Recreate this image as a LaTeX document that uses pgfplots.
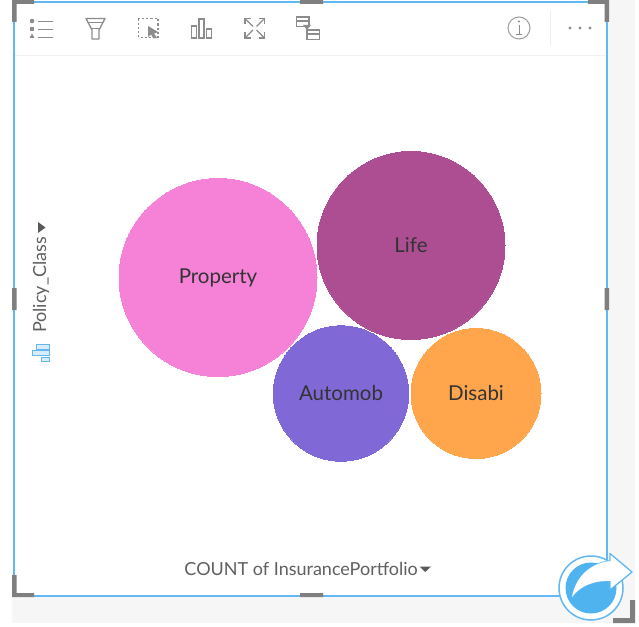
\documentclass[border=0pt]{standalone}
\usepackage{fontspec}
\setmainfont{Lato}
\usepackage{pgfplots}
\usepackage{pgfplotstable}
\pgfplotsset{compat=1.18}
\definecolor{frameblue}{HTML}{63B8F2}
\definecolor{handle}{HTML}{7F7F7F}
\definecolor{icon}{HTML}{8C8C8C}
\definecolor{pagegrey}{HTML}{F6F6F6}
\definecolor{sharegblue}{HTML}{4FB3F0}
\definecolor{cProperty}{HTML}{F582D6}
\definecolor{cLife}{HTML}{AD4E93}
\definecolor{cAuto}{HTML}{8069D6}
\definecolor{cDisabi}{HTML}{FFA64D}
\definecolor{txt}{HTML}{606060}
\pgfplotsset{bubble/.style={only marks,mark=*,mark size=#1,point meta=explicit symbolic,
   nodes near coords,
   nodes near coords align={anchor=center},
   every node near coord/.append style={font=\fontsize{20.5}{23}\selectfont,text=black!80,inner sep=0pt,anchor=center}}}
\begin{document}
\begin{tikzpicture}
\path[use as bounding box] (0,0) rectangle (639pt,626pt);
\begin{axis}[at={(0,0)},anchor=south west,scale only axis,width=639pt,height=626pt,
  xmin=0,xmax=639,ymin=0,ymax=626,y dir=reverse,hide axis,clip=false]
% page background
\fill[pagegrey] (608,0) rectangle (635,623);
\fill[pagegrey] (12,597) rectangle (635,623);
\fill[white] (14,2) rectangle (607,596);
% bubbles
\addplot[bubble=99,mark options={draw=cProperty,fill=cProperty,line width=0pt}] coordinates {(218,277.5)[Property]};
\addplot[bubble=94,mark options={draw=cLife,fill=cLife,line width=0pt}] coordinates {(411,245.5)[Life]};
\addplot[bubble=67.7,mark options={draw=cAuto,fill=cAuto,line width=0pt}] coordinates {(341,393.5)[Automob]};
\addplot[bubble=65,mark options={draw=cDisabi,fill=cDisabi,line width=0pt}] coordinates {(476,393.5)[Disabi]};
% axis titles
\node[font=\fontsize{18}{20}\selectfont,text=txt,anchor=east,inner sep=0pt] at (418,569) {COUNT of InsurancePortfolio};
\fill[black!65] (419.5,566.5) -- (431,566.5) -- (425.2,572) -- cycle;
\node[font=\fontsize{18}{20}\selectfont,text=txt,rotate=90,anchor=west,inner sep=0pt] at (41,333) {Policy\_Class};
\fill[black!65] (38,222) -- (38,233) -- (45.5,227.5) -- cycle;
\draw[frameblue,line width=1pt,fill=frameblue!25] (36,344.5) rectangle (49,349);
\draw[frameblue,line width=1pt,fill=frameblue!25] (32,350.5) rectangle (49,355.5);
\draw[frameblue,line width=1pt,fill=frameblue!25] (41,357) rectangle (49,361);
% toolbar
\draw[black!6,line width=1pt] (15,55.5) -- (606,55.5);
\draw[black!7,line width=1pt] (550,11) -- (550,45);
% list icon
\fill[icon] (32,21) circle (2.3); \fill[icon] (29.7,27) rectangle (34.3,31.5); \fill[icon] (32,33.5) -- (29.5,38) -- (34.5,38) -- cycle;
\draw[icon,line width=.9pt] (38,21) -- (53,21) (38,29) -- (53,29) (38,37) -- (53,37);
% funnel
\draw[icon,line width=1.3pt,line join=round] (86,18.5) -- (105,18.5) -- (99,30) -- (99,39) -- (92,39) -- (92,30) -- cycle;
\draw[icon,line width=1pt] (88,23) -- (103,23);
\draw[icon,line width=1pt] (92,29) -- (99,29);
% selection
\draw[icon,line width=1.2pt,dash pattern=on 2.2pt off 2pt] (138.5,18.5) rectangle (158,37.5);
\fill[icon] (148,26) -- (158,32) -- (154,33.5) -- (157,38) -- (153.5,38.5) -- (151,34.5) -- (148,37) -- cycle;
% bars
\draw[icon,line width=1.2pt] (191.5,26) rectangle (196.5,38) (199,19) rectangle (204,38) (206.5,29) rectangle (211.5,38);
% expand
\draw[icon,line width=1.2pt] (245,24) -- (245,18.5) -- (251,18.5) (259,18.5) -- (264.5,18.5) -- (264.5,24) (245,32) -- (245,38) -- (251,38) (259,38) -- (264.5,38) -- (264.5,32);
\draw[icon,line width=1.2pt] (246,19.5) -- (253,26.5) (263.5,19.5) -- (256.5,26.5) (246,37) -- (253,30) (263.5,37) -- (256.5,30);
% tree
\draw[icon,line width=1.2pt] (296.5,17) rectangle (309,26.5) (296.5,21) -- (309,21);
\draw[icon,line width=1.2pt] (307,30) rectangle (319.5,39.5) (307,34) -- (319.5,34);
\fill[icon] (303,25) -- (311,25) -- (307,30) -- cycle;
% info
\draw[icon!85!white,line width=1pt] (519,28) circle (11);
\fill[icon] (519,21.5) circle (1.1);
\draw[icon,line width=1pt] (519,25) -- (519,34) (516,34.5) -- (522,34.5);
% dots
\fill[icon] (570,28) circle (1.6) (580,28) circle (1.6) (590,28) circle (1.6);
% frame
\draw[frameblue,line width=1.2pt] (14,2) rectangle (607,596);
% handles
\fill[handle] (12,0) rectangle (34,4) (12,0) rectangle (16.5,22);
\fill[handle] (588,0) rectangle (609,4) (604.5,0) rectangle (609,22);
\fill[handle] (12,575) rectangle (16.5,597) (12,593) rectangle (34,597);
\fill[handle] (300,0) rectangle (323,4) (300,593) rectangle (323,597);
\fill[handle] (12,288) rectangle (16.5,310) (604.5,288) rectangle (609,310);
\fill[handle] (613,618) rectangle (635,623) (630,600) rectangle (635,623);
% share button
\fill[white] (591,588) circle (32);
\draw[frameblue,line width=1.5pt] (591,588) circle (32);
\fill[sharegblue] (591,588) circle (25.5);
\draw[frameblue,line width=1.3pt,fill=white,line join=round] (572,597) .. controls (576,575) and (592,563) .. (610,561) -- (610,553.5) -- (632,572) -- (610,590) -- (610,581) .. controls (594,580) and (580,586) .. (572,597) -- cycle;
\fill[white] (572,597) .. controls (576,575) and (592,563) .. (610,561) -- (612,581) .. controls (594,580) and (580,586) .. (572,597) -- cycle;
\end{axis}
\end{tikzpicture}
\end{document}
